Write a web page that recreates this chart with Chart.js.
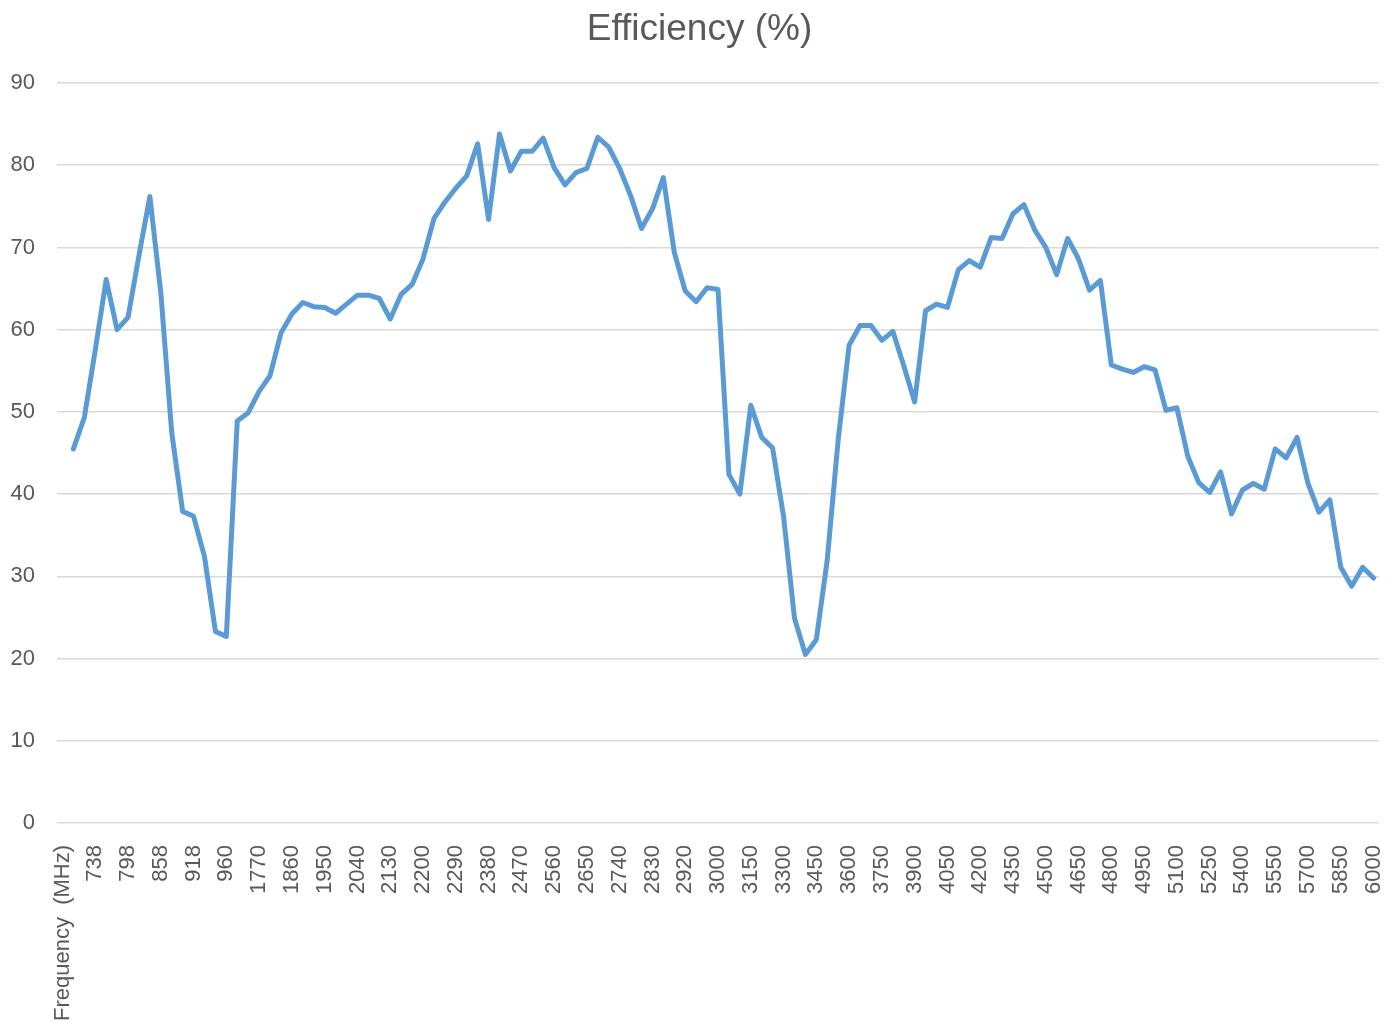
<!DOCTYPE html>
<html>
<head>
<meta charset="utf-8">
<title>Efficiency (%)</title>
<script src="https://cdn.jsdelivr.net/npm/chart.js@4.4.1/dist/chart.umd.min.js"></script>
<style>
  body { margin: 0; background: #fff; }
  #wrap { width: 1399px; height: 1032px; position: relative; }
</style>
</head>
<body>
<div id="wrap"><canvas id="effChart"></canvas></div>
<script>
// categorias del eje X (solo se muestra una de cada tres)
const frequencyLabels = [
  'Frequency  (MHz)',
  '698', '718', '738', '758', '778', '798', '818', '838', '858', '878',
  '898', '918', '925', '940', '960', '1710', '1740', '1770', '1800', '1830',
  '1860', '1890', '1920', '1950', '1980', '2010', '2040', '2070', '2100', '2130',
  '2150', '2170', '2200', '2230', '2260', '2290', '2320', '2350', '2380', '2410',
  '2440', '2470', '2500', '2530', '2560', '2590', '2620', '2650', '2680', '2710',
  '2740', '2770', '2800', '2830', '2860', '2890', '2920', '2950', '2980', '3000',
  '3050', '3100', '3150', '3200', '3250', '3300', '3350', '3400', '3450', '3500',
  '3550', '3600', '3650', '3700', '3750', '3800', '3850', '3900', '3950', '4000',
  '4050', '4100', '4150', '4200', '4250', '4300', '4350', '4400', '4450', '4500',
  '4550', '4600', '4650', '4700', '4750', '4800', '4850', '4900', '4950', '5000',
  '5050', '5100', '5150', '5200', '5250', '5300', '5350', '5400', '5450', '5500',
  '5550', '5600', '5650', '5700', '5750', '5800', '5850', '5900', '5950', '6000'
];

// eficiencia en %, la primera categoria no tiene valor
const efficiencyValues = [
  null,
  45.5, 49.3, 57.5, 66.1, 60.0, 61.5, 69.0, 76.2, 64.5, 47.5,
  37.9, 37.3, 32.4, 23.3, 22.7, 48.9, 49.9, 52.5, 54.4, 59.6,
  61.9, 63.3, 62.8, 62.7, 62.0, 63.1, 64.2, 64.2, 63.8, 61.3,
  64.3, 65.5, 68.6, 73.5, 75.5, 77.2, 78.7, 82.6, 73.4, 83.8,
  79.3, 81.7, 81.7, 83.3, 79.7, 77.6, 79.1, 79.6, 83.4, 82.2,
  79.6, 76.3, 72.3, 74.7, 78.5, 69.4, 64.7, 63.4, 65.1, 64.9,
  42.4, 40.0, 50.8, 46.9, 45.6, 37.3, 24.9, 20.5, 22.3, 32.0,
  46.6, 58.1, 60.5, 60.5, 58.7, 59.8, 55.6, 51.2, 62.3, 63.1,
  62.7, 67.3, 68.4, 67.6, 71.2, 71.1, 74.1, 75.2, 72.1, 70.0,
  66.7, 71.1, 68.6, 64.8, 66.0, 55.7, 55.2, 54.8, 55.5, 55.1,
  50.2, 50.5, 44.6, 41.4, 40.2, 42.7, 37.6, 40.5, 41.3, 40.6,
  45.5, 44.4, 46.9, 41.3, 37.8, 39.3, 31.1, 28.8, 31.1, 29.8
];

// eje Y
const yMin = 0;
const yMax = 90;
const yStep = 10;
const labelEvery = 3;

const textColor = '#595959';
const gridColor = '#d9d9d9';
const fontFamily = '"Liberation Sans", Arial, sans-serif';

const ctx = document.getElementById('effChart').getContext('2d');
const effChart = new Chart(ctx, {
  type: 'line',
  data: {
    labels: frequencyLabels,
    datasets: [{
      label: 'Efficiency (%)',
      data: efficiencyValues,
      borderColor: '#5b9bd5',
      backgroundColor: '#5b9bd5',
      borderWidth: 5,
      pointRadius: 0,
      tension: 0,
      borderJoinStyle: 'round',
      borderCapStyle: 'round'
    }]
  },
  options: {
    responsive: true,
    maintainAspectRatio: false,
    animation: false,
    layout: { padding: 0 },
    plugins: {
      legend: { display: false },
      tooltip: { enabled: false },
      title: {
        display: true,
        text: 'Efficiency (%)',
        color: textColor,
        font: { family: fontFamily, size: 37, weight: 'normal' },
        padding: { top: 8, bottom: 30.6 }
      }
    },
    scales: {
      x: {
        offset: true,
        grid: { display: false },
        border: { display: false },
        ticks: {
          autoSkip: false,
          maxRotation: 90,
          minRotation: 90,
          padding: 14,
          color: textColor,
          font: { family: fontFamily, size: 22 },
          callback: function (val, idx) {
            return idx % labelEvery === 0 ? frequencyLabels[idx] : '';
          }
        },
        afterFit: function (scale) {
          scale.height = 209;
          scale.paddingLeft = 0;
          scale.paddingRight = 20;
        }
      },
      y: {
        min: yMin,
        max: yMax,
        grid: { color: gridColor, lineWidth: 1.5, drawTicks: false },
        border: { display: false },
        ticks: {
          stepSize: yStep,
          padding: 22,
          color: textColor,
          font: { family: fontFamily, size: 22 }
        },
        afterFit: function (scale) { scale.width = 57; }
      }
    }
  }
});
</script>
</body>
</html>
